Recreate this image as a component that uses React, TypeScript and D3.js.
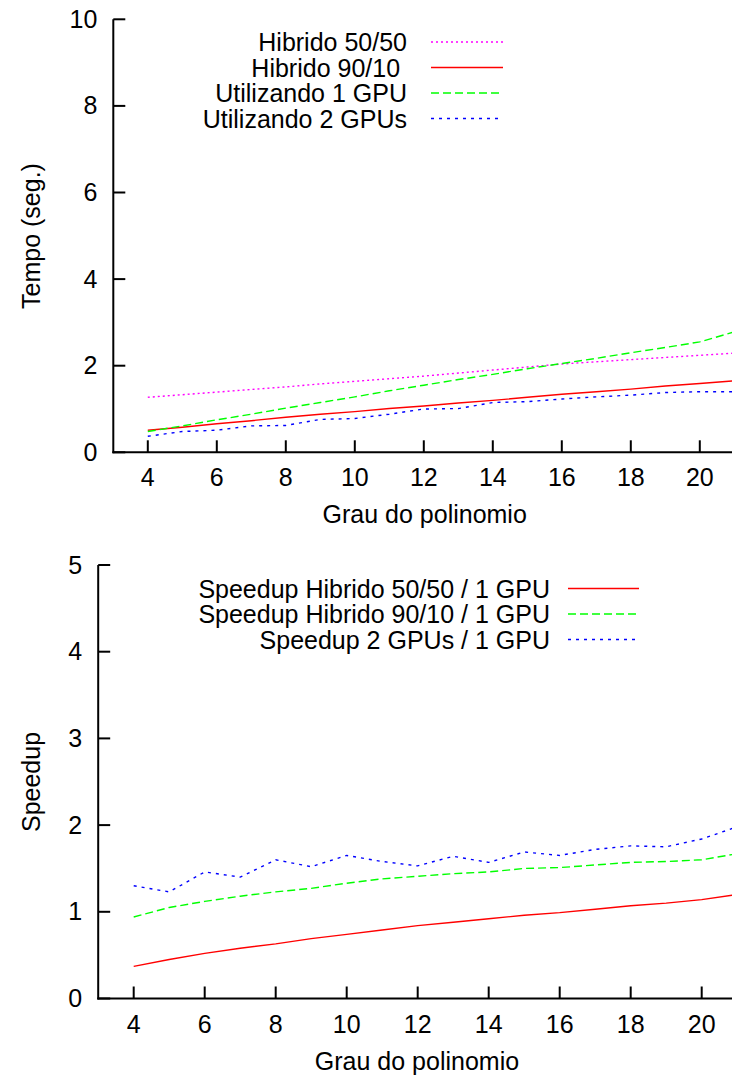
import React from 'react';
import * as d3 from 'd3';

// polynomial degree (x axis of both plots)
const degrees = [4, 5, 6, 7, 8, 9, 10, 11, 12, 13, 14, 15, 16, 17, 18, 19, 20, 21];
const xTicks = [4, 6, 8, 10, 12, 14, 16, 18, 20];

// top plot: time in seconds
const hibrido5050 = [1.27, 1.33, 1.39, 1.45, 1.51, 1.58, 1.64, 1.70, 1.76, 1.83, 1.90, 1.97, 2.04, 2.09, 2.14, 2.19, 2.24, 2.29];
const hibrido9010 = [0.51, 0.58, 0.66, 0.73, 0.81, 0.88, 0.94, 1.01, 1.07, 1.14, 1.20, 1.27, 1.34, 1.40, 1.46, 1.53, 1.59, 1.65];
const umaGpu = [0.48, 0.61, 0.75, 0.88, 1.02, 1.15, 1.28, 1.42, 1.55, 1.68, 1.80, 1.93, 2.05, 2.17, 2.30, 2.42, 2.55, 2.78];
const duasGpus = [0.37, 0.48, 0.51, 0.61, 0.62, 0.76, 0.78, 0.88, 1.00, 1.01, 1.15, 1.17, 1.23, 1.28, 1.32, 1.38, 1.40, 1.40];
const tempoTicks = [0, 2, 4, 6, 8, 10];

// bottom plot: speedup
const speedup5050 = [0.37, 0.45, 0.52, 0.58, 0.63, 0.69, 0.74, 0.79, 0.84, 0.88, 0.92, 0.96, 0.99, 1.03, 1.07, 1.10, 1.14, 1.20];
const speedup9010 = [0.94, 1.05, 1.12, 1.18, 1.23, 1.27, 1.33, 1.38, 1.41, 1.44, 1.46, 1.50, 1.51, 1.54, 1.57, 1.58, 1.60, 1.67];
const speedup2gpu = [1.30, 1.23, 1.46, 1.40, 1.60, 1.52, 1.65, 1.58, 1.53, 1.64, 1.57, 1.69, 1.65, 1.72, 1.76, 1.75, 1.84, 1.98];
const speedupTicks = [0, 1, 2, 3, 4, 5];

const W = 732;
const H = 1077;
const font = '"Liberation Sans", Arial, Helvetica, sans-serif';
const fs = 25;

const styles = {
  magenta: { color: '#ff00ff', dash: '2,3' },
  red: { color: '#ff0000', dash: undefined },
  green: { color: '#00ff00', dash: '8,4' },
  blue: { color: '#0000ff', dash: '3,5' },
};

type Series = { label: string; values: number[]; style: { color: string; dash?: string } };

type PanelProps = {
  x0: number;
  y0: number;
  yTop: number;
  xUnit: number;
  yMax: number;
  yTicks: number[];
  series: Series[];
  yTitle: string;
  yTitleY: number;
  xTitleX: number;
  xTitleY: number;
  legendRight: number;
  legendLineX: [number, number];
  legendY: number[];
};

const Panel = (p: PanelProps) => {
  const x = d3.scaleLinear().domain([3, 21]).range([p.x0, p.x0 + 18 * p.xUnit]);
  const y = d3.scaleLinear().domain([0, p.yMax]).range([p.y0, p.yTop]);

  const line = d3.line<number>()
    .x((d, i) => x(degrees[i]))
    .y(d => y(d));

  return (
    <g>
      {/* data lines */}
      {p.series.map(s => (
        <path key={s.label} d={line(s.values) || ''} fill="none" stroke={s.style.color}
          strokeWidth={1.4} strokeDasharray={s.style.dash} />
      ))}

      {/* axes */}
      <line x1={p.x0} x2={p.x0} y1={p.y0 + 1} y2={y(p.yMax)} stroke="#000" strokeWidth={2} />
      <line x1={p.x0 - 1} x2={W} y1={p.y0} y2={p.y0} stroke="#000" strokeWidth={2} />
      {p.yTicks.map(t => (
        <g key={'y' + t}>
          <line x1={p.x0} x2={p.x0 + 12} y1={y(t)} y2={y(t)} stroke="#000" strokeWidth={2} />
          <text x={p.x0 - 16} y={y(t)} dy="0.34em" textAnchor="end" fontSize={fs}>{t}</text>
        </g>
      ))}
      {xTicks.map(t => (
        <g key={'x' + t}>
          <line x1={x(t)} x2={x(t)} y1={p.y0} y2={p.y0 - 12} stroke="#000" strokeWidth={2} />
          <text x={x(t)} y={p.y0 + 34} textAnchor="middle" fontSize={fs}>{t}</text>
        </g>
      ))}

      {/* titles */}
      <text x={p.xTitleX} y={p.xTitleY} textAnchor="middle" fontSize={fs}>Grau do polinomio</text>
      <text transform={`translate(40, ${p.yTitleY}) rotate(-90)`} textAnchor="middle" fontSize={fs}>{p.yTitle}</text>

      {/* legend */}
      {p.series.map((s, i) => (
        <g key={'l' + s.label}>
          <text x={p.legendRight} y={p.legendY[i]} dy="0.36em" textAnchor="end" fontSize={fs}
            style={{ whiteSpace: 'pre' }}>{s.label}</text>
          <line x1={p.legendLineX[0]} x2={p.legendLineX[1]} y1={p.legendY[i]} y2={p.legendY[i]}
            stroke={s.style.color} strokeWidth={1.4} strokeDasharray={s.style.dash} />
        </g>
      ))}
    </g>
  );
};

export default function App() {
  const topSeries: Series[] = [
    { label: 'Hibrido 50/50', values: hibrido5050, style: styles.magenta },
    { label: 'Hibrido 90/10 ', values: hibrido9010, style: styles.red },
    { label: 'Utilizando 1 GPU', values: umaGpu, style: styles.green },
    { label: 'Utilizando 2 GPUs', values: duasGpus, style: styles.blue },
  ];
  const bottomSeries: Series[] = [
    { label: 'Speedup Hibrido 50/50 / 1 GPU', values: speedup5050, style: styles.red },
    { label: 'Speedup Hibrido 90/10 / 1 GPU', values: speedup9010, style: styles.green },
    { label: 'Speedup 2 GPUs / 1 GPU', values: speedup2gpu, style: styles.blue },
  ];

  return (
    <svg width={W} height={H} style={{ position: 'absolute', left: 0, top: 0, background: '#fff' }}
      fontFamily={font} fill="#000">
      <Panel x0={113.3} y0={452.3} yTop={19.3} xUnit={34.5} yMax={10} yTicks={tempoTicks}
        series={topSeries} yTitle="Tempo (seg.)" yTitleY={236} xTitleX={424.7} xTitleY={523}
        legendRight={407} legendLineX={[431, 503]} legendY={[42, 67.5, 93, 118.5]} />
      <Panel x0={98.2} y0={998.5} yTop={565} xUnit={35.5} yMax={5} yTicks={speedupTicks}
        series={bottomSeries} yTitle="Speedup" yTitleY={782} xTitleX={417} xTitleY={1070}
        legendRight={550} legendLineX={[568, 639]} legendY={[588.5, 614, 639.5]} />
    </svg>
  );
}
